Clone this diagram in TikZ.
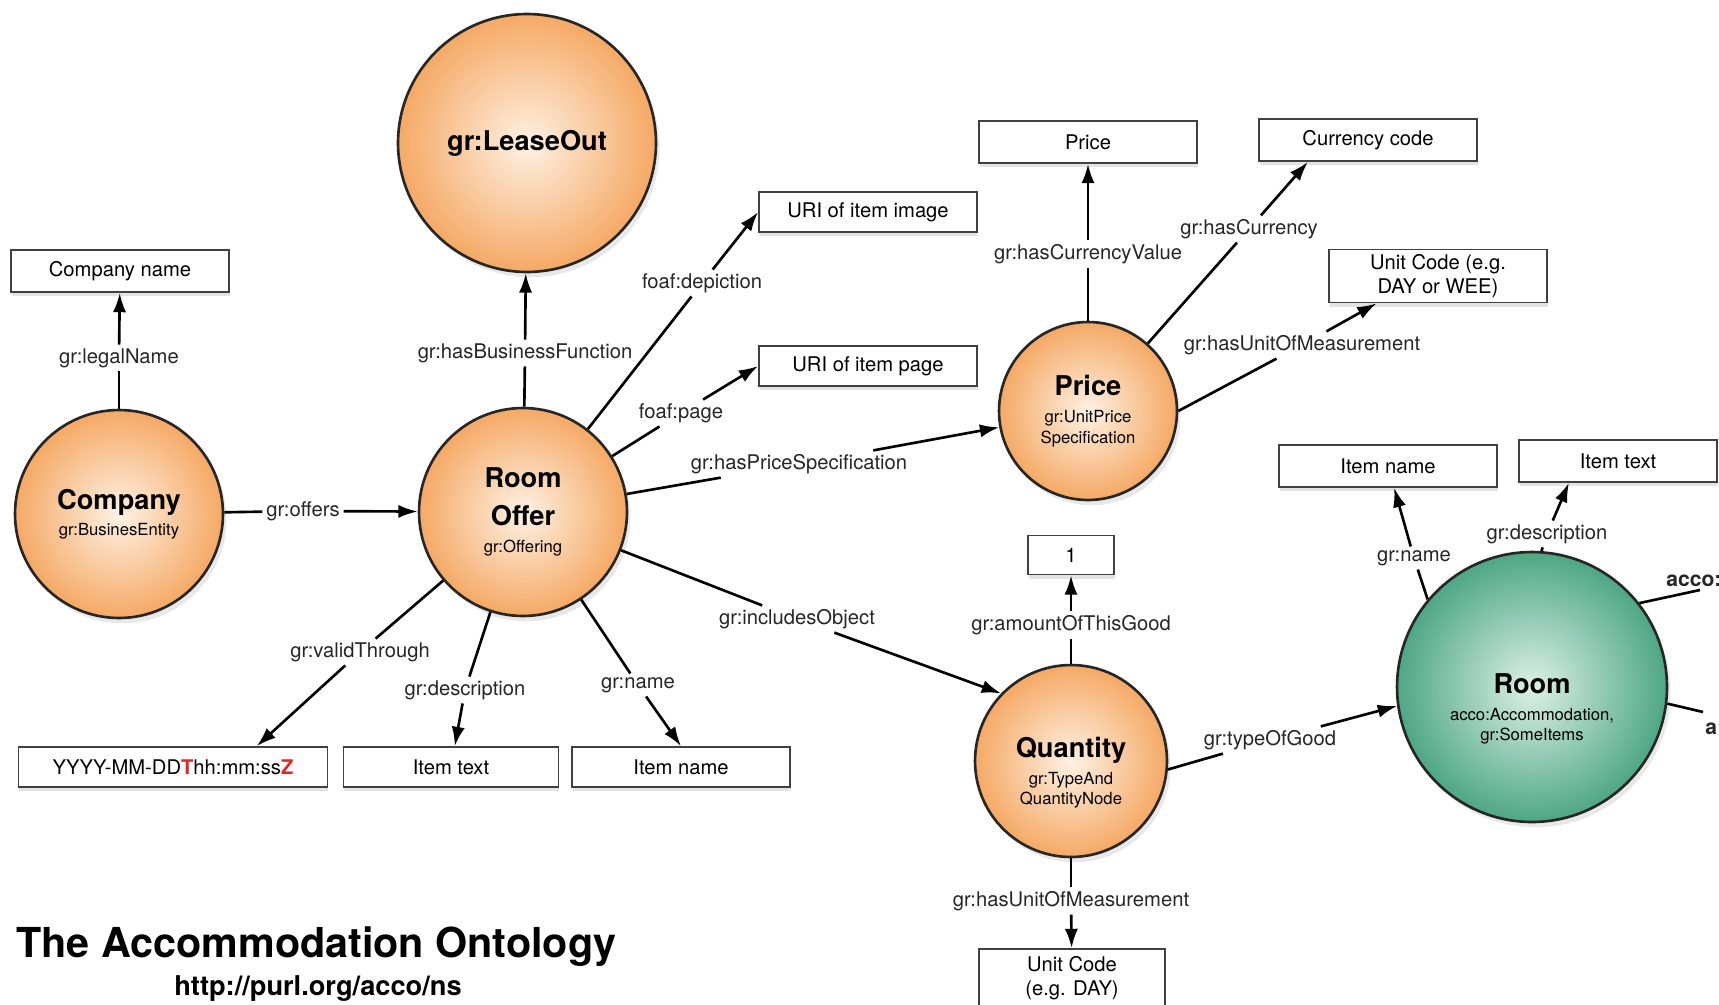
\documentclass[tikz,border=0pt]{standalone}
\usepackage{fontspec}
\setmainfont{TeX Gyre Heros}
\usetikzlibrary{arrows.meta,shadows}

\definecolor{offerout}{HTML}{F5A965}
\definecolor{offerin}{HTML}{FEF1E4}
\definecolor{roomout}{HTML}{4EA784}
\definecolor{roomin}{HTML}{DDF0E8}
\definecolor{redletter}{HTML}{E0262A}

\newcommand{\circtitle}{\fontsize{15.5}{18}\selectfont\bfseries}
\newcommand{\circtype}{\fontsize{9.5}{11.5}\selectfont}

\tikzset{
  thing/.style={circle, draw=black!85, line width=1.5pt, shade, inner color=offerin,
    outer color=offerout, align=center, inner sep=0pt, font=\circtype,
    drop shadow={opacity=0.18, shadow xshift=2pt, shadow yshift=-3pt}},
  room/.style={thing, inner color=roomin, outer color=roomout},
  literal/.style={draw=black!75, line width=1pt, fill=white, minimum width=4.36cm,
    minimum height=0.84cm, inner sep=0pt, align=center, font=\fontsize{11.5}{13.5}\selectfont,
    drop shadow={opacity=0.22, shadow xshift=0.5pt, shadow yshift=-2.5pt}},
  prop/.style={inner sep=2pt, font=\fontsize{11.5}{13.5}\selectfont, text=black!85},
  link/.style={line width=1.5pt},
  linkto/.style={link, -{Latex[length=11pt, width=7.5pt]}}
}

\begin{document}
\begin{tikzpicture}[x=0.02cm, y=-0.02cm]
\useasboundingbox (0,0) rectangle (1719,1004);
\clip (0,0) rectangle (1719,1004);
\fill[white] (0,0) rectangle (1719,1004);

% classes
\node[thing, minimum size=5.16cm] (lo) at (527,143) {{\circtitle gr:LeaseOut}};
\node[thing, minimum size=4.16cm] (co) at (119,514) {{\circtitle Company}\\[3pt]gr:BusinesEntity};
\node[thing, minimum size=4.16cm] (ro) at (523,512) {{\circtitle Room}\\[9pt]{\circtitle Offer}\\[4pt]gr:Offering};
\node[thing, minimum size=3.56cm] (pr) at (1088,411) {{\circtitle Price}\\[4pt]gr:UnitPrice\\Specification};
\node[thing, minimum size=3.84cm] (qu) at (1071,761) {{}\\[12pt]{\circtitle Quantity}\\[4pt]gr:TypeAnd\\QuantityNode};
\node[room, minimum size=5.4cm] (rm) at (1532,687) {{}\\[24.5pt]{\circtitle Room}\\[4pt]acco:Accommodation,\\gr:SomeItems};

% literals
\node[literal] (bCoName) at (120,271) {Company name};
\node[literal, minimum height=0.8cm] (bImage) at (868,212) {URI of item image};
\node[literal, minimum height=0.8cm] (bPage) at (868,366) {URI of item page};
\node[literal] (bPrice) at (1088,142) {Price};
\node[literal] (bCurrency) at (1368,140) {Currency code};
\node[literal, minimum height=1.06cm] (bUnitP) at (1438,276) {Unit Code (e.g.\\DAY or WEE)};
\node[literal] (bNameR) at (1388,466) {Item name};
\node[literal, minimum width=3.96cm] (bTextR) at (1618,461) {Item text};
\node[literal, minimum width=1.72cm, minimum height=0.78cm] (bOne) at (1071,555) {1};
\node[literal, minimum width=6.18cm, minimum height=0.8cm] (bDate) at (173,767)
  {YYYY-MM-DD{\color{redletter}\bfseries T}hh:mm:ss{\color{redletter}\bfseries Z}};
\node[literal, minimum width=4.3cm, minimum height=0.8cm] (bText) at (451,767) {Item text};
\node[literal, minimum height=0.8cm] (bName) at (681,767) {Item name};
\node[literal, minimum width=3.72cm, minimum height=1.16cm] (bUnitQ) at (1072,978) {Unit Code\\(e.g. DAY)};

% properties
\node[prop] (pLegal) at (119,358) {gr:legalName};
\node[prop] (pOffers) at (303,511) {gr:offers};
\node[prop] (pBusiness) at (525,353) {gr:hasBusinessFunction};
\node[prop] (pDepict) at (702,283) {foaf:depiction};
\node[prop] (pPage) at (681,413) {foaf:page};
\node[prop] (pPriceSpec) at (799,464) {gr:hasPriceSpecification};
\node[prop] (pIncludes) at (797,619) {gr:includesObject};
\node[prop] (pValid) at (360,652) {gr:validThrough};
\node[prop] (pDesc) at (465,690) {gr:description};
\node[prop] (pName) at (638,685) {gr:name};
\node[prop] (pValue) at (1088,254) {gr:hasCurrencyValue};
\node[prop] (pCurrency) at (1249,229) {gr:hasCurrency};
\node[prop] (pUnitP) at (1302,345) {gr:hasUnitOfMeasurement};
\node[prop] (pAmount) at (1071,625) {gr:amountOfThisGood};
\node[prop] (pUnitQ) at (1071,901) {gr:hasUnitOfMeasurement};
\node[prop] (pType) at (1270,740) {gr:typeOfGood};
\node[prop] (pNameR) at (1414,558) {gr:name};
\node[prop] (pDescR) at (1547,534) {gr:description};
\node[prop, font=\fontsize{12}{14}\selectfont\bfseries, anchor=west, inner sep=0pt] (pAcco) at (1666,581) {acco:};
\node[prop, font=\fontsize{12}{14}\selectfont\bfseries, anchor=west, inner sep=0pt] (pA) at (1705,729) {a};
\coordinate (cAcco) at (1700,590);
\coordinate (cA) at (1703,712);

\draw[link] (co) -- (pLegal);
\draw[linkto] (pLegal) -- (bCoName);
\draw[link] (co) -- (pOffers);
\draw[linkto] (pOffers) -- (ro);
\draw[link] (ro) -- (pBusiness);
\draw[linkto] (pBusiness) -- (lo);
\draw[link] (ro) -- (pDepict);
\draw[linkto] (pDepict) -- (bImage.west);
\draw[link] (ro) -- (pPage);
\draw[linkto] (pPage) -- (bPage.west);
\draw[link] (ro) -- (pPriceSpec);
\draw[linkto] (pPriceSpec) -- (pr);
\draw[link] (ro) -- (pIncludes);
\draw[linkto] (pIncludes) -- (qu.136);
\draw[link] (ro) -- (pValid);
\draw[linkto] (pValid) -- (bDate.14);
\draw[link] (ro) -- (pDesc);
\draw[linkto] (pDesc) -- (bText);
\draw[link] (ro) -- (pName);
\draw[linkto] (pName) -- (bName.north);

\draw[link] (pr) -- (pValue);
\draw[linkto] (pValue) -- (bPrice);
\draw[link] (pr) -- (pCurrency);
\draw[linkto] (pCurrency) -- (bCurrency.200);
\draw[link] (pr.east) -- (pUnitP);
\draw[linkto] (pUnitP) -- (bUnitP.204);

\draw[link] (qu) -- (pAmount);
\draw[linkto] (pAmount) -- (bOne);
\draw[link] (qu) -- (pUnitQ);
\draw[linkto] (pUnitQ) -- (bUnitQ);
\draw[link] (qu.-5) -- (pType);
\draw[linkto] (pType) -- (rm.188);

\draw[link] (rm.140) -- (pNameR);
\draw[linkto] (pNameR) -- (bNameR);
\draw[link] (rm.86) -- (pDescR);
\draw[linkto] (pDescR) -- (bTextR.204);
\draw[link] (rm.38) -- (cAcco);
\draw[link] (rm.-7) -- (cA);

\node[anchor=base west, font=\fontsize{23.5}{28}\selectfont\bfseries, inner sep=0pt] (title) at (16,957) {The Accommodation Ontology};
\node[anchor=base, font=\fontsize{15.5}{18}\selectfont\bfseries, inner sep=0pt] (url) at (318,995) {http://purl.org/acco/ns};
\end{tikzpicture}
\end{document}
